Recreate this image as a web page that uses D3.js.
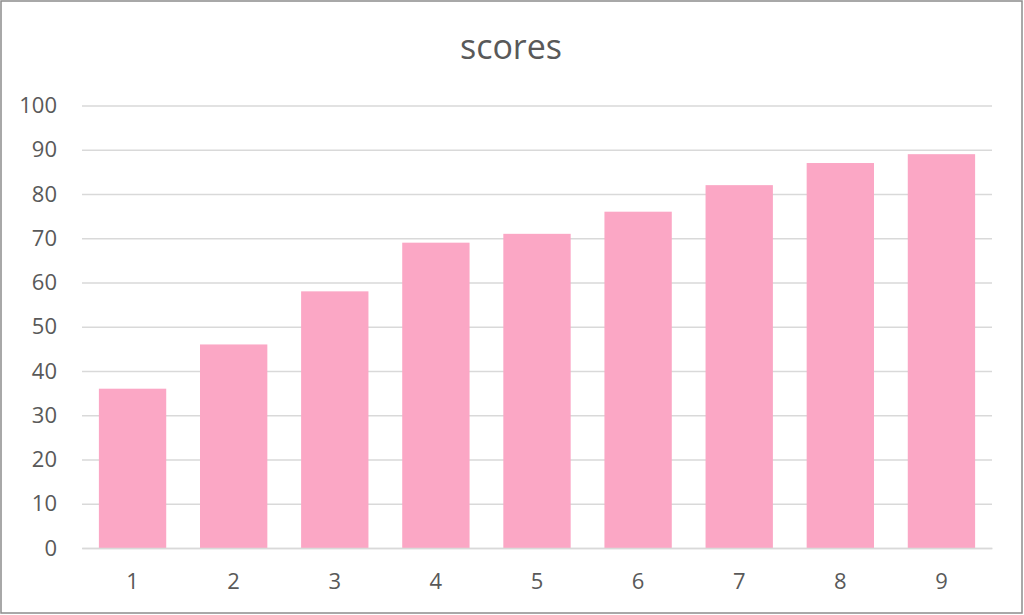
<!DOCTYPE html>
<html>
<head>
<meta charset="utf-8">
<script src="https://cdn.jsdelivr.net/npm/d3@7"></script>
<style>
  body { margin: 0; background: #fff; }
  text { font-family: 'Open Sans', 'Liberation Sans', sans-serif; fill: #595959; }
</style>
</head>
<body>
<div id="chart"></div>
<script>
// chart data
const categories = ['1', '2', '3', '4', '5', '6', '7', '8', '9']
const scores = [36, 46, 58, 69, 71, 76, 82, 87, 89]
const yTicks = [0, 10, 20, 30, 40, 50, 60, 70, 80, 90, 100]
const title = 'scores'

const width = 1024,
  height = 615
const plot = { left: 82, right: 992, top: 105.5, bottom: 548 }

let svg = d3.select('#chart')
  .append('svg')
  .attr('width', width)
  .attr('height', height)

// outer frame
svg.append('rect')
  .attr('x', 1).attr('y', 1)
  .attr('width', width - 3).attr('height', height - 3)
  .attr('fill', 'none')
  .attr('stroke', '#8c8c8c')
  .attr('stroke-width', 1.5)

const xScale = d3.scaleBand()
  .domain(categories)
  .range([plot.left, plot.right])
  .paddingInner(0.334)
  .paddingOuter(0.167)

const yScale = d3.scaleLinear()
  .domain([0, 100])
  .range([plot.bottom, plot.top])

// gridlines + y labels
let yAxis = d3.axisLeft(yScale)
  .tickValues(yTicks)
  .tickSize(-(plot.right - plot.left))
  .tickPadding(25)

let yAxisGroup = svg.append('g')
  .attr('transform', `translate(${plot.left}, 0)`)
  .call(yAxis)
yAxisGroup.select('.domain').remove()
yAxisGroup.selectAll('line').attr('stroke', '#d9d9d9').attr('stroke-width', 1.5)
yAxisGroup.selectAll('text').style('font-size', '22px').attr('fill', '#595959')

// bars
svg.selectAll('rect.bar')
  .data(scores)
  .enter()
  .append('rect')
  .attr('class', 'bar')
  .attr('x', (d, i) => xScale(categories[i]))
  .attr('width', xScale.bandwidth())
  .attr('y', d => yScale(d))
  .attr('height', d => plot.bottom - yScale(d))
  .attr('fill', '#fba7c5')

// x axis
let xAxis = d3.axisBottom(xScale).tickSize(0).tickPadding(25)
let xAxisGroup = svg.append('g')
  .attr('transform', `translate(0, ${plot.bottom})`)
  .call(xAxis)
xAxisGroup.select('.domain')
  .attr('stroke', '#d9d9d9').attr('stroke-width', 1.5)
xAxisGroup.selectAll('text').style('font-size', '22px').attr('fill', '#595959')

svg.append('text')
  .attr('x', 511)
  .attr('y', 59)
  .attr('text-anchor', 'middle')
  .style('font-size', '34px')
  .text(title)
</script>
</body>
</html>
